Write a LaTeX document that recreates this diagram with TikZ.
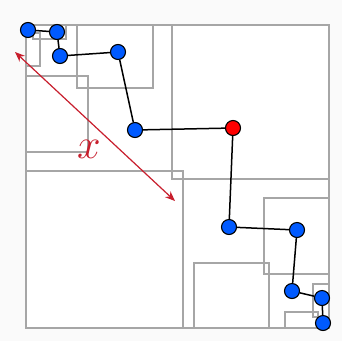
\documentclass[tikz,border=0pt]{standalone}
\usetikzlibrary{arrows.meta}
\definecolor{ptblue}{RGB}{0,90,255}
\definecolor{ptred}{RGB}{255,0,0}
\definecolor{arrowred}{RGB}{200,30,45}
\begin{document}
\begin{tikzpicture}[x=1pt,y=-1pt,
  cell/.style={draw=black!35,line width=1.1pt},
  pt/.style={circle,draw=black,line width=1.1pt,fill=ptblue,minimum size=15pt,inner sep=0pt},
  hot/.style={pt,fill=ptred},
  link/.style={draw=black,line width=1.5pt},
  span/.style={draw=arrowred,line width=1.2pt,{Stealth[length=10pt,width=8pt]}-{Stealth[length=10pt,width=8pt]}}]
  % canvas
  \fill[black!2] (0,0) rectangle (342,341);
  \useasboundingbox (0,0) rectangle (342,341);
  \fill[white] (26,25) rectangle (329,328);
  % subdivision cells
  \draw[cell] (26,25) rectangle (329,328);
  \draw[cell] (172,25) rectangle (329,179);
  \draw[cell] (26,171) rectangle (183,328);
  \draw[cell] (26,76) rectangle (88,152);
  \draw[cell] (77,25) rectangle (153,88);
  \draw[cell] (33,25) rectangle (66,39);
  \draw[cell] (26,33) rectangle (40,66);
  \draw[cell] (264,198) rectangle (329,274);
  \draw[cell] (194,263) rectangle (269,328);
  \draw[cell] (313,284) rectangle (329,317);
  \draw[cell] (285,312) rectangle (318,328);
  % distance marker
  \coordinate (xa) at (15,52);
  \coordinate (xb) at (175,201);
  \draw[span] (xa) -- (xb);
  \node[text=arrowred,font=\Huge,scale=1.7,inner sep=0pt] (xl) at (89,149) {$x$};
  % points
  \node[pt] (p1) at (28,30) {};
  \node[pt] (p2) at (57,32) {};
  \node[pt] (p3) at (60,56) {};
  \node[pt] (p4) at (118,52) {};
  \node[pt] (p5) at (135,130) {};
  \node[hot] (p6) at (233,128) {};
  \node[pt] (p7) at (229,227) {};
  \node[pt] (p8) at (297,230) {};
  \node[pt] (p9) at (292,291) {};
  \node[pt] (p10) at (322,298) {};
  \node[pt] (p11) at (323,323) {};
  % path through the points
  \foreach \a/\b in {p1/p2,p2/p3,p3/p4,p4/p5,p5/p6,p6/p7,p7/p8,p8/p9,p9/p10,p10/p11}
    \draw[link] (\a) -- (\b);
\end{tikzpicture}
\end{document}
